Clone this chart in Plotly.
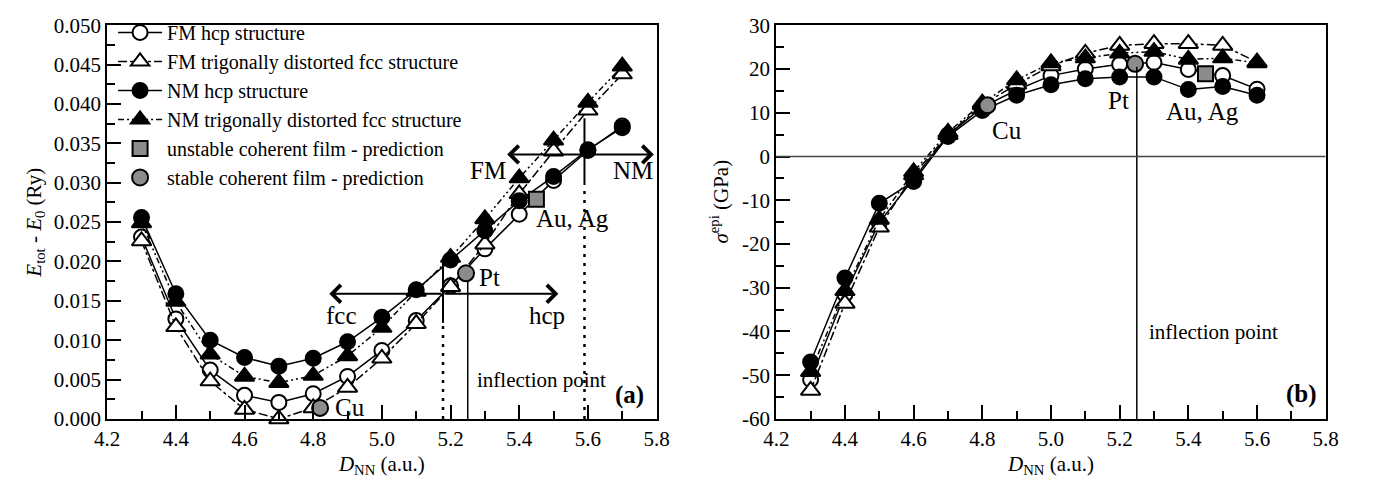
import plotly.graph_objects as go

# ---------------- data ----------------
x_a = [4.3, 4.4, 4.5, 4.6, 4.7, 4.8, 4.9, 5.0, 5.1, 5.2, 5.3, 5.4, 5.5, 5.6, 5.7]
fm_hcp_a = [0.0231, 0.0127, 0.0062, 0.0030, 0.0021, 0.0032, 0.0054, 0.0087, 0.0125, 0.0169, 0.0216, 0.0260, 0.0303, 0.0341, 0.0372]
fm_fcc_a = [0.0226, 0.0117, 0.0048, 0.0012, 0.0000, 0.0014, 0.0040, 0.0077, 0.0121, 0.0168, 0.0222, 0.0286, 0.0340, 0.0392, 0.0438]
nm_hcp_a = [0.0256, 0.0159, 0.0100, 0.0078, 0.0067, 0.0077, 0.0098, 0.0129, 0.0164, 0.0202, 0.0239, 0.0277, 0.0308, 0.0342, 0.0370]
nm_fcc_a = [0.0249, 0.0149, 0.0082, 0.0054, 0.0046, 0.0055, 0.0080, 0.0116, 0.0162, 0.0205, 0.0254, 0.0306, 0.0354, 0.0402, 0.0448]
stable_x_a = [4.82, 5.245]
stable_y_a = [0.0014, 0.0185]
unstable_x_a = [5.45]
unstable_y_a = [0.0279]

x_b = [4.3, 4.4, 4.5, 4.6, 4.7, 4.8, 4.9, 5.0, 5.1, 5.2, 5.3, 5.4, 5.5, 5.6]
fm_hcp_b = [-51.0, -31.5, -15.1, -5.0, 4.9, 11.3, 15.2, 18.5, 20.0, 21.1, 21.5, 19.9, 18.5, 15.4]
fm_fcc_b = [-53.5, -33.6, -16.2, -4.2, 5.0, 11.8, 16.5, 20.7, 23.6, 25.4, 25.8, 25.8, 25.4, 21.6]
nm_hcp_b = [-47.0, -27.8, -10.7, -5.7, 4.6, 10.5, 14.0, 16.4, 17.8, 18.2, 18.2, 15.3, 16.0, 14.0]
nm_fcc_b = [-49.2, -30.7, -14.4, -3.5, 5.5, 12.2, 17.5, 21.4, 22.5, 23.6, 24.0, 22.2, 22.5, 21.4]
stable_x_b = [4.815, 5.245]
stable_y_b = [11.7, 21.2]
unstable_x_b = [5.45]
unstable_y_b = [18.9]

y_ticks_b = [-60, -50, -40, -30, -20, -10, 0, 10, 20, 30]
y_ticklabels_b = ["-60", "-50", "-40", "-30", "-20", "-10", "0", "10", "20", "30"]

names = ["FM hcp structure", "FM trigonally distorted fcc structure",
         "NM hcp structure", "NM trigonally distorted fcc structure",
         "unstable coherent film - prediction", "stable coherent film - prediction"]

FONT = "Liberation Serif"
W, H = 1374, 487

def px_x(p):
    return p / W

def px_y(p):
    return (H - p) / H

fig = go.Figure()

styles = [
    dict(symbol="circle", fill="white", dash="solid", size=15),
    dict(symbol="triangle-up", fill="white", dash="dashdot", size=17),
    dict(symbol="circle", fill="black", dash="solid", size=15),
    dict(symbol="triangle-up", fill="black", dash="6px,3px,2px,3px,2px,3px", size=17),
]

series_a = [fm_hcp_a, fm_fcc_a, nm_hcp_a, nm_fcc_a]
series_b = [fm_hcp_b, fm_fcc_b, nm_hcp_b, nm_fcc_b]

for i, (ya, yb) in enumerate(zip(series_a, series_b)):
    st = styles[i]
    for xa, yv, axx, axy, leg in [(x_a, ya, "x", "y", True), (x_b, yb, "x2", "y2", False)]:
        fig.add_trace(go.Scatter(
            x=xa, y=yv, xaxis=axx, yaxis=axy, mode="lines+markers",
            name=names[i], showlegend=leg, cliponaxis=False,
            line=dict(color="black", width=1.5, dash=st["dash"]),
            marker=dict(symbol=st["symbol"], size=st["size"], color=st["fill"],
                        line=dict(color="black", width=2)),
        ))

for xs, ys, axx, axy, leg in [(unstable_x_a, unstable_y_a, "x", "y", True),
                              (unstable_x_b, unstable_y_b, "x2", "y2", False)]:
    fig.add_trace(go.Scatter(
        x=xs, y=ys, xaxis=axx, yaxis=axy, mode="markers", name=names[4],
        showlegend=leg, cliponaxis=False,
        marker=dict(symbol="square", size=15, color="#8c8c8c",
                    line=dict(color="black", width=2))))

for xs, ys, axx, axy, leg in [(stable_x_a, stable_y_a, "x", "y", True),
                              (stable_x_b, stable_y_b, "x2", "y2", False)]:
    fig.add_trace(go.Scatter(
        x=xs, y=ys, xaxis=axx, yaxis=axy, mode="markers", name=names[5],
        showlegend=leg, cliponaxis=False,
        marker=dict(symbol="circle", size=16, color="#8c8c8c",
                    line=dict(color="black", width=2))))

tickfont = dict(family=FONT, size=21, color="black")
common_x = dict(range=[4.2, 5.8], dtick=0.2, tickformat=".1f", ticks="inside",
                ticklen=14, tickwidth=1.5, tickcolor="black", showline=True,
                linecolor="black", linewidth=2, mirror=True, showgrid=False,
                zeroline=False, tickfont=tickfont,
                minor=dict(ticks="inside", ticklen=8, dtick=0.1, tickcolor="black",
                           tickwidth=1.5, showgrid=False))
common_y = dict(ticks="inside", ticklen=14, tickwidth=1.5, tickcolor="black",
                showline=True, linecolor="black", linewidth=2, mirror=True,
                showgrid=False, zeroline=False, tickfont=tickfont)

xtitle = dict(text="<i>D</i><sub>NN</sub> (a.u.)", font=dict(family=FONT, size=21, color="black"), standoff=6)

fig.update_layout(
    width=W, height=H, margin=dict(l=0, r=0, t=0, b=0),
    paper_bgcolor="white", plot_bgcolor="white",
    font=dict(family=FONT, size=21, color="black"),
    xaxis=dict(domain=[px_x(96), px_x(656)], anchor="y", title=xtitle, **common_x),
    yaxis=dict(domain=[px_y(428), px_y(14)], anchor="x", range=[0, 0.05], dtick=0.005,
               tickformat=".3f",
               minor=dict(ticks="inside", ticklen=8, dtick=0.0025, tickcolor="black",
                          tickwidth=1.5, showgrid=False),
               **common_y),
    xaxis2=dict(domain=[px_x(778), px_x(1338)], anchor="y2", title=xtitle, **common_x),
    yaxis2=dict(domain=[px_y(428), px_y(14)], anchor="x2", range=[-60, 30],
                tickmode="array", tickvals=y_ticks_b, ticktext=y_ticklabels_b,
                minor=dict(ticks="inside", ticklen=8, dtick=5, tickcolor="black",
                           tickwidth=1.5, showgrid=False),
                **common_y),
    legend=dict(x=px_x(102), y=px_y(1), xanchor="left", yanchor="top",
                bgcolor="rgba(0,0,0,0)", font=dict(family=FONT, size=20, color="black"),
                itemwidth=44, tracegroupgap=0),
    showlegend=True,
)

shapes = []
def vline(x, y0, y1, xref, yref, dash="solid", width=2):
    shapes.append(dict(type="line", x0=x, x1=x, y0=y0, y1=y1, xref=xref, yref=yref,
                       line=dict(color="black", width=width, dash=dash)))

# panel (a)
vline(5.59, 0.0297, 0.0382, "x", "y")
vline(5.59, 0.0, 0.0297, "x", "y", dash="3px,6px", width=2.5)
vline(5.178, 0.0122, 0.0201, "x", "y")
vline(5.178, 0.0, 0.0122, "x", "y", dash="3px,6px", width=2.5)
vline(5.25, 0.0, 0.0175, "x", "y", width=1.5)
# panel (b)
vline(5.25, -60, 20.5, "x2", "y2", width=1.5)
shapes.append(dict(type="line", x0=4.2, x1=5.8, y0=0, y1=0, xref="x2", yref="y2",
                   line=dict(color="#444444", width=1.5)))
fig.update_layout(shapes=shapes)

ann = []
def arrow(xh, xt, y, xref, yref):
    ann.append(dict(x=xh, y=y, ax=xt, ay=y, xref=xref, yref=yref, axref=xref, ayref=yref,
                    text="", showarrow=True, arrowhead=4, arrowsize=1.7, arrowwidth=2,
                    arrowcolor="black", standoff=0, startstandoff=0))

arrow(5.365, 5.59, 0.0336, "x", "y")
arrow(5.792, 5.59, 0.0336, "x", "y")
arrow(4.847, 5.178, 0.0159, "x", "y")
arrow(5.514, 5.178, 0.0159, "x", "y")

def label(x, y, text, xref, yref, size=25, bold=False):
    ann.append(dict(x=x, y=y, xref=xref, yref=yref, showarrow=False,
                    text=("<b>%s</b>" % text) if bold else text,
                    font=dict(family=FONT, size=size, color="black"),
                    xanchor="center", yanchor="middle"))

label(5.309, 0.0316, "FM", "x", "y")
label(5.731, 0.0316, "NM", "x", "y")
label(4.881, 0.0132, "fcc", "x", "y")
label(5.481, 0.0132, "hcp", "x", "y")
label(5.314, 0.0180, "Pt", "x", "y")
label(5.554, 0.0255, "Au, Ag", "x", "y")
label(4.906, 0.00145, "Cu", "x", "y")
label(5.466, 0.0050, "inflection point", "x", "y", size=21)
label(5.72, 0.0031, "(a)", "x", "y", size=25, bold=True)

label(4.871, 5.9, "Cu", "x2", "y2")
label(5.197, 12.8, "Pt", "x2", "y2")
label(5.44, 10.2, "Au, Ag", "x2", "y2")
label(5.474, -40.2, "inflection point", "x2", "y2", size=21)
label(5.729, -54.3, "(b)", "x2", "y2", size=25, bold=True)

# y-axis titles
ann.append(dict(x=px_x(22), y=px_y(222), xref="paper", yref="paper", showarrow=False,
                textangle=-90, text="<i>E</i><sub>tot</sub> - <i>E</i><sub>0</sub> (Ry)",
                font=dict(family=FONT, size=21, color="black"),
                xanchor="center", yanchor="middle"))
ann.append(dict(x=px_x(720), y=px_y(199), xref="paper", yref="paper", showarrow=False,
                textangle=-90, text="<i>σ</i><sup>epi</sup> (GPa)",
                font=dict(family=FONT, size=21, color="black"),
                xanchor="center", yanchor="middle"))

fig.update_layout(annotations=ann)

fig.write_html("out.html")
